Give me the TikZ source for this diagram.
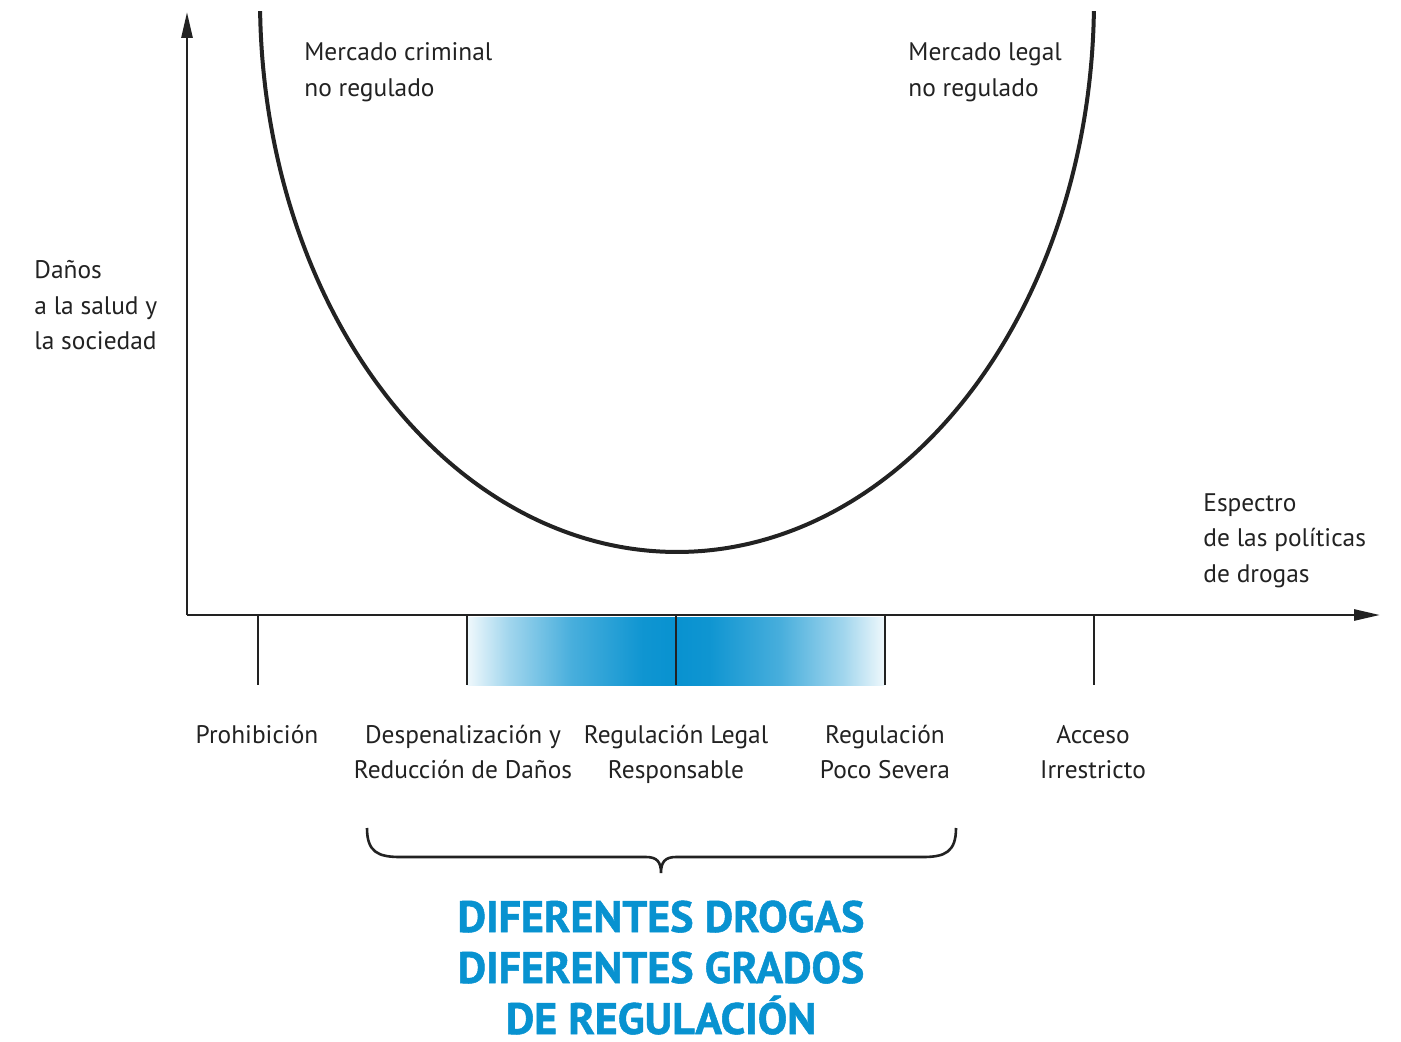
\documentclass[tikz,border=0pt]{standalone}
\usepackage{fontspec}
\usepackage{tikz}
\usepackage{xcolor}
\usetikzlibrary{arrows.meta}
\setmainfont{PT Sans}
\newfontfamily\titlefont[FakeBold=1.2]{PT Sans}
\definecolor{spanblue}{RGB}{8,146,208}
\definecolor{inkgrey}{RGB}{34,34,34}
\pgfdeclarehorizontalshading{band-left}{100bp}{color(0bp)=(spanblue!6); color(25bp)=(spanblue!6); color(35bp)=(spanblue!38); color(50bp)=(spanblue!74); color(67bp)=(spanblue!97); color(75bp)=(spanblue); color(100bp)=(spanblue)}
\pgfdeclarehorizontalshading{band-right}{100bp}{color(0bp)=(spanblue); color(25bp)=(spanblue); color(33bp)=(spanblue!97); color(50bp)=(spanblue!74); color(65bp)=(spanblue!38); color(75bp)=(spanblue!6); color(100bp)=(spanblue!6)}
\tikzset{
    axis-line/.style = {draw=inkgrey, line width=1.35pt, -{Triangle[length=13pt, width=5.5pt]}},
    tick-line/.style = {draw=inkgrey, line width=0.9pt},
    harm-curve/.style = {draw=inkgrey, line width=2pt},
    side-label/.style = {font=\fontsize{12.7}{17.75}\selectfont, align=left, anchor=base west, inner sep=0pt, text=inkgrey},
    tick-label/.style = {font=\fontsize{12.7}{17.75}\selectfont, align=center, anchor=base, inner sep=0pt, text=inkgrey},
    big-title/.style = {font=\titlefont\bfseries\fontsize{22}{25.5}\selectfont, text=spanblue, align=center, anchor=base, inner sep=0pt},
}

\begin{document}
\begin{tikzpicture}[x=0.5pt, y=-0.5pt]
\useasboundingbox (0,0) rectangle (1401,1042);
% axes
\coordinate (origin) at (187,615);
\coordinate (ytop) at (187,12);
\coordinate (xend) at (1380,615);
% gradient band
\shade[shading=band-left] (467,617) rectangle (676,685);
\shade[shading=band-right] (676,617) rectangle (885,685);
\draw[axis-line] (origin) -- (ytop);
\draw[axis-line] (origin) -- (xend);
% ticks
\foreach \name/\x in {prohib/258, decrim/467, legal/676, light/885, free/1094} {
    \coordinate (\name-top) at (\x,615);
    \coordinate (\name-bot) at (\x,685);
    \draw[tick-line] (\name-top) -- (\name-bot);
}
% U curve
\begin{scope}
\clip (0,12) rectangle (1401,1042);
\draw[harm-curve, domain=0:180, samples=120, smooth] plot ({677+417*cos(\x)},{552*sin(\x)});
\end{scope}
% labels (base = last line)
\node[side-label] (criminal) at (304,96.5) {Mercado criminal\\no regulado};
\node[side-label] (legalmkt) at (908,96.5) {Mercado legal\\no regulado};
\node[side-label] (harm) at (34,350) {Daños\\a la salud y\\la sociedad};
\node[side-label] (spectrum) at (1203,582) {Espectro\\de las políticas\\de drogas};
\node[tick-label] (prohib) at (257,743) {Prohibición};
\node[tick-label] (decrim) at (463,778.5) {Despenalización y\\Reducción de Daños};
\node[tick-label] (legal) at (676,778.5) {Regulación Legal\\Responsable};
\node[tick-label] (light) at (885,778.5) {Regulación\\Poco Severa};
\node[tick-label] (free) at (1093,778.5) {Acceso\\Irrestricto};
% brace
\coordinate (brace-l) at (367,828);
\coordinate (brace-r) at (956,828);
\coordinate (brace-tip) at (661,873);
\draw[inkgrey, line width=1.3pt] (brace-l) .. controls (367,852) and (378,857) .. (400,857) -- (646,857)
    .. controls (657,857) and (661,862) .. (brace-tip)
    .. controls (661,862) and (665,857) .. (676,857) -- (923,857)
    .. controls (945,857) and (956,852) .. (brace-r);
\node[big-title] (title) at (661,1034) {DIFERENTES DROGAS\\DIFERENTES GRADOS\\DE REGULACIÓN};
\end{tikzpicture}
\end{document}
